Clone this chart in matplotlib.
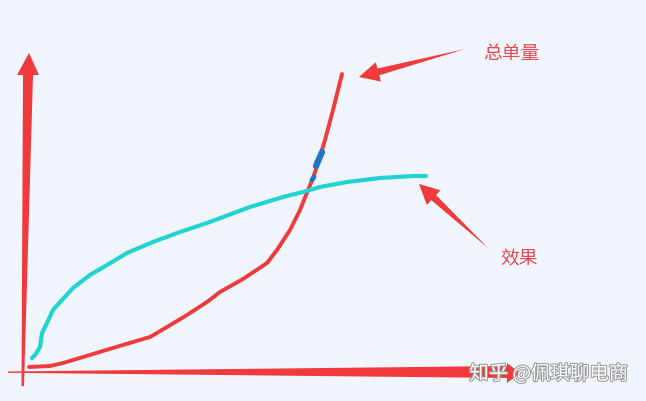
import matplotlib.pyplot as plt
import numpy as np
from matplotlib.patches import Polygon
import matplotlib.patheffects as pe

plt.rcParams['font.family'] = ['Noto Sans CJK SC', 'DejaVu Sans']

# hand-drawn curves (pixel coords, y down)
red_x = [29, 50, 63, 83, 113, 133, 150, 167, 187, 207, 220, 243, 267, 277, 290, 300, 306, 313, 318, 325, 333, 342]
red_y = [367, 366, 363, 357, 348, 342, 337, 327, 315, 302, 292, 279, 263, 250, 230, 210, 195, 178, 163, 140, 110, 74]
cyan_x = [32, 35, 40, 42, 47, 53, 62, 73, 90, 107, 127, 153, 180, 207, 250, 283, 303, 320, 347, 380, 413, 426]
cyan_y = [358, 355, 347, 333, 323, 310, 300, 288, 275, 265, 253, 242, 232, 223, 207, 197, 192, 187, 182, 178, 176, 176]
blue_x = [316, 322]
blue_y = [166, 152]
blue_dot_x = [312, 314]
blue_dot_y = [180, 177]

labels = ['总单量', '效果']
label_pos = [(511, 53), (519, 259)]
arrow_tail = [(465, 49), (488, 248)]
arrow_tip = [(359, 77), (419, 184)]
watermark = '知乎 @佩琪聊电商'

red = '#F03A3C'
cyan = '#22D3D3'
bg = '#F1F6FE'

fig = plt.figure(figsize=(6.46, 4.01), dpi=100, facecolor=bg)
ax = fig.add_axes([0, 0, 1, 1])
ax.set_xlim(0, 646)
ax.set_ylim(401, 0)
ax.axis('off')
ax.set_facecolor(bg)

# tapered axis arrows
ax.add_patch(Polygon([(21.5, 386), (24, 386), (33, 75), (39, 75), (29, 53), (17, 75), (23, 75)],
                     closed=True, color=red, lw=0))
ax.add_patch(Polygon([(8, 371.5), (507, 366), (507, 363), (520, 373), (507, 383), (507, 378), (8, 372.8)],
                     closed=True, color=red, lw=0))

ax.plot(red_x, red_y, color=red, lw=2.8, solid_capstyle='round', solid_joinstyle='round')
ax.plot(cyan_x, cyan_y, color=cyan, lw=3, solid_capstyle='round', solid_joinstyle='round')
ax.plot(blue_x, blue_y, color='#1F77C8', lw=4.5, solid_capstyle='round')
ax.plot(blue_dot_x, blue_dot_y, color='#1F77C8', lw=3.5, solid_capstyle='round')

# callout arrows: thin tail widening into a head
for (tx, ty), (hx, hy) in zip(arrow_tail, arrow_tip):
    d = np.array([hx - tx, hy - ty], float)
    u = d / np.hypot(*d)
    n = np.array([-u[1], u[0]])
    tip = np.array([hx, hy])
    base = tip - u * 20
    tail = np.array([tx, ty])
    pts = [tail, base + n * 3.5, base + n * 10, tip, base - n * 10, base - n * 3.5]
    ax.add_patch(Polygon(pts, closed=True, color=red, lw=0))

for txt, (x, y) in zip(labels, label_pos):
    ax.text(x, y, txt, color='#E24B4F', fontsize=13.5, ha='center', va='center')

ax.text(549, 374, watermark, color='white', fontsize=14, ha='center', va='center',
        path_effects=[pe.withStroke(linewidth=1.5, foreground='#9a9a9a')])

fig.savefig('out.png', dpi=100, facecolor=bg)
